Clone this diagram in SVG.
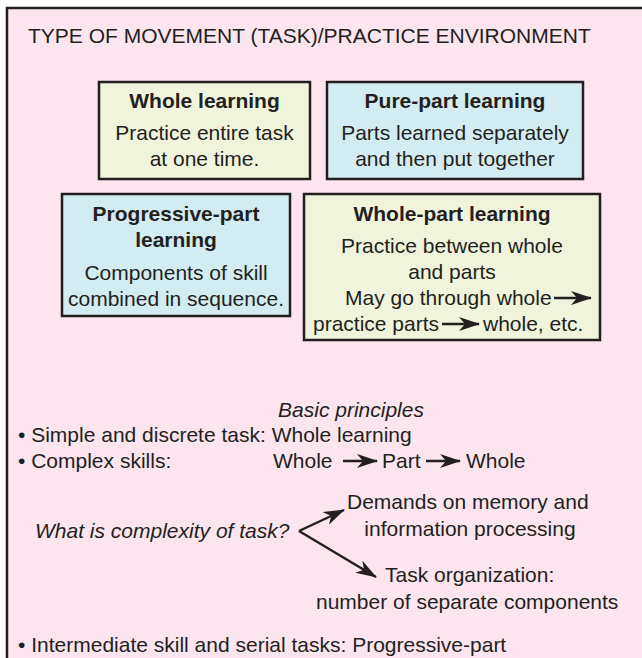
<svg xmlns="http://www.w3.org/2000/svg" width="642" height="658" viewBox="0 0 642 658">
  <style>
    .t { font-family: "Liberation Sans", Arial, sans-serif; font-size: 21px; fill: #231f20; }
    .b { font-weight: bold; }
    .i { font-style: italic; }
    .m { text-anchor: middle; }
    .box { stroke: #231f20; stroke-width: 2.5; }
    .yel { fill: #f0f4dc; }
    .blu { fill: #d3ecf1; }
    .ar { stroke: #231f20; stroke-width: 2.4; fill: none; marker-end: url(#barb); }
  </style>
  <defs>
    <marker id="barb" markerUnits="userSpaceOnUse" viewBox="0 0 21 14" markerWidth="21" markerHeight="14" refX="20" refY="7" orient="auto">
      <path d="M0,0 L21,7 L0,14 L6,7 Z" fill="#231f20"/>
    </marker>
  </defs>

  <rect x="0" y="0" width="642" height="658" fill="#ffffff"/>
  <!-- outer frame: only top and left edges fall inside the canvas -->
  <rect x="7" y="8" width="660" height="680" fill="#fce5ef" stroke="#231f20" stroke-width="2.5"/>

  <text class="t" x="28" y="43">TYPE OF MOVEMENT (TASK)/PRACTICE ENVIRONMENT</text>

  <g id="whole-learning">
    <rect class="box yel" x="99" y="82" width="211" height="97"/>
    <text class="t b m" x="204.5" y="108">Whole learning</text>
    <text class="t m" x="204.5" y="140">Practice entire task</text>
    <text class="t m" x="204.5" y="166">at one time.</text>
  </g>

  <g id="pure-part-learning">
    <rect class="box blu" x="327" y="82" width="256" height="97"/>
    <text class="t b m" x="455" y="108">Pure-part learning</text>
    <text class="t m" x="455" y="140">Parts learned separately</text>
    <text class="t m" x="455" y="166">and then put together</text>
  </g>

  <g id="progressive-part-learning">
    <rect class="box blu" x="62" y="194" width="228" height="122"/>
    <text class="t b m" x="176" y="221">Progressive-part</text>
    <text class="t b m" x="176" y="247">learning</text>
    <text class="t m" x="176" y="280">Components of skill</text>
    <text class="t m" x="176" y="306">combined in sequence.</text>
  </g>

  <g id="whole-part-learning">
    <rect class="box yel" x="304" y="194" width="296" height="146"/>
    <text class="t b m" x="452" y="221">Whole-part learning</text>
    <text class="t m" x="452" y="253">Practice between whole</text>
    <text class="t m" x="452" y="279">and parts</text>
    <text class="t" x="345" y="305">May go through whole</text>
    <text class="t" x="313" y="331">practice parts</text>
    <text class="t" x="483" y="331">whole, etc.</text>
  </g>

  <text class="t i m" x="351" y="417">Basic principles</text>
  <text class="t" x="18" y="442">• Simple and discrete task: Whole learning</text>
  <text class="t" x="18" y="468">• Complex skills:</text>
  <text class="t" x="273" y="468">Whole</text>
  <text class="t" x="382" y="468">Part</text>
  <text class="t" x="466" y="468">Whole</text>

  <text class="t i" x="35" y="538">What is complexity of task?</text>
  <text class="t" x="347" y="509">Demands on memory and</text>
  <text class="t m" x="470" y="536">information processing</text>
  <text class="t" x="385" y="582">Task organization:</text>
  <text class="t" x="316" y="609">number of separate components</text>

  <text class="t" x="18" y="652">• Intermediate skill and serial tasks: Progressive-part</text>

  <g id="connectors">
    <line class="ar" x1="554" y1="298" x2="591" y2="298"/>
    <line class="ar" x1="442" y1="324" x2="479" y2="324"/>
    <line class="ar" x1="343" y1="461" x2="377" y2="461"/>
    <line class="ar" x1="426" y1="461" x2="460" y2="461"/>
    <line class="ar" x1="299" y1="531" x2="344" y2="510"/>
    <line class="ar" x1="299" y1="531" x2="376" y2="577"/>
  </g>
</svg>
